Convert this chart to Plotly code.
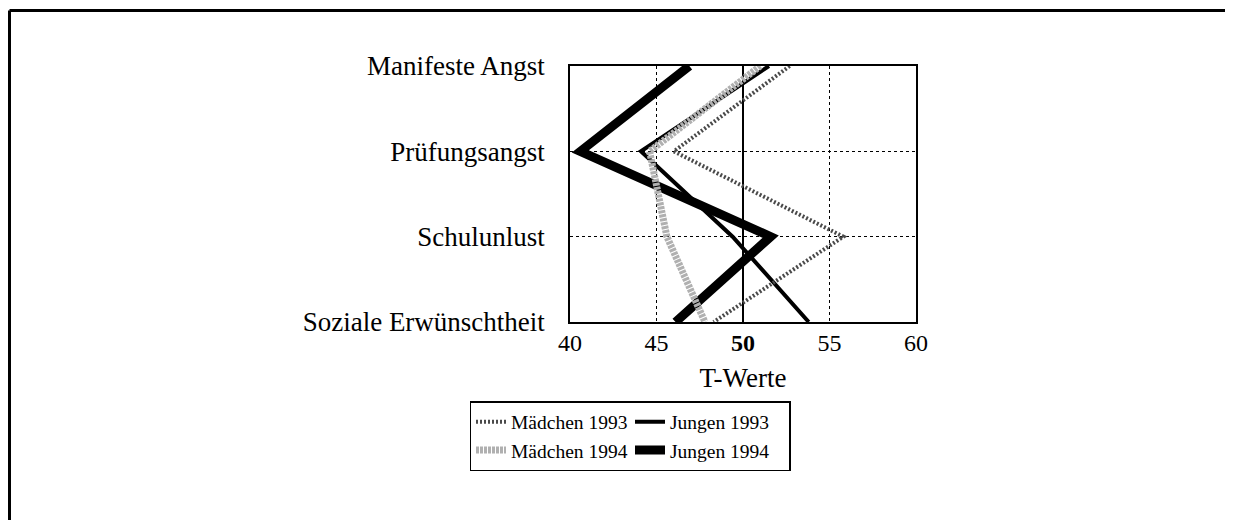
import plotly.graph_objects as go

categories = ["Manifeste Angst", "Prüfungsangst", "Schulunlust", "Soziale Erwünschtheit"]
maedchen_1993 = [52.7, 46.0, 55.8, 48.3]
jungen_1993 = [51.5, 44.1, 49.4, 53.8]
maedchen_1994 = [51.0, 44.6, 45.6, 47.8]
jungen_1994 = [46.9, 40.6, 51.6, 46.1]

x_ticks = [40, 45, 50, 55, 60]
x_ticktext = ["40", "45", "<b>50</b>", "55", "60"]

FONT = "Liberation Serif"
OFF = 8  # page body margin
W, H = 1233 - OFF, 520 - OFF
L, R, T, B = 570 - OFF, 916 - OFF, 66 - OFF, 322 - OFF

def px_x(p):
    return (p - OFF - L) / (R - L)

def px_y(p):
    return (B - (p - OFF)) / (B - T)

fig = go.Figure()
fig.add_trace(go.Scatter(x=jungen_1993, y=categories, mode="lines", name="Jungen 1993",
                         line=dict(color="black", width=4), legendrank=2))
fig.add_trace(go.Scatter(x=jungen_1994, y=categories, mode="lines", name="Jungen 1994",
                         line=dict(color="black", width=9), legendrank=4))
fig.add_trace(go.Scatter(x=maedchen_1993, y=categories, mode="lines", name="Mädchen 1993",
                         line=dict(color="#4a4a4a", width=4, dash="2px,2px"), legendrank=1))
fig.add_trace(go.Scatter(x=maedchen_1994, y=categories, mode="lines", name="Mädchen 1994",
                         line=dict(color="#b0b0b0", width=7, dash="3px,1px"), legendrank=3))

fig.update_layout(
    width=W, height=H,
    margin=dict(l=L, r=W - R, t=T, b=H - B),
    paper_bgcolor="white", plot_bgcolor="white",
    font=dict(family=FONT, color="black", size=24),
    showlegend=True,
    legend=dict(
        orientation="h", x=px_x(630), xanchor="center", y=px_y(401), yanchor="top",
        bordercolor="black", borderwidth=1.5, bgcolor="white",
        font=dict(family=FONT, size=19.5, color="black"),
        entrywidth=114, tracegroupgap=0, itemwidth=30,
    ),
    xaxis=dict(
        range=[40, 60], tickvals=x_ticks, ticktext=x_ticktext,
        showgrid=True, gridcolor="black", griddash="dot", gridwidth=1,
        showline=True, linecolor="black", linewidth=1.5, mirror=True,
        zeroline=False, ticks="", tickfont=dict(size=24), ticklabelstandoff=-2,
        title=dict(text="T-Werte", font=dict(size=27), standoff=14),
    ),
    yaxis=dict(
        type="category", categoryorder="array", categoryarray=categories,
        range=[3, 0],
        showgrid=True, gridcolor="black", griddash="dot", gridwidth=1,
        showline=True, linecolor="black", linewidth=1.5, mirror=True,
        zeroline=False, ticks="", tickfont=dict(size=27), ticklabelstandoff=18,
    ),
    shapes=[
        dict(type="line", xref="x", yref="paper", x0=50, x1=50, y0=0, y1=1,
             line=dict(color="black", width=2), layer="below"),
        dict(type="line", xref="paper", yref="paper", x0=px_x(9.5), x1=px_x(1233), y0=px_y(10.5), y1=px_y(10.5),
             line=dict(color="black", width=3)),
        dict(type="line", xref="paper", yref="paper", x0=px_x(9.5), x1=px_x(9.5), y0=px_y(10.5), y1=px_y(520),
             line=dict(color="black", width=3)),
    ],
)

fig.write_html("out.html")
